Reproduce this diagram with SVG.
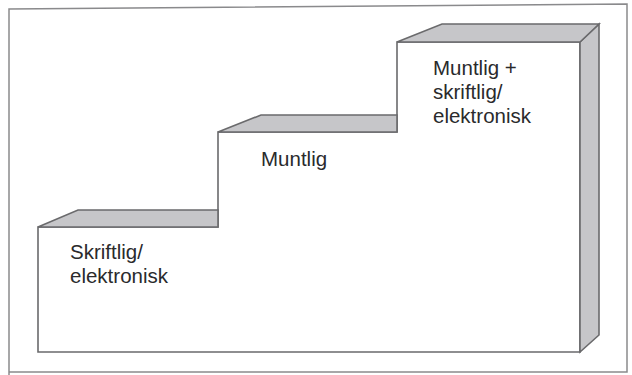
<svg xmlns="http://www.w3.org/2000/svg" width="632" height="375" viewBox="0 0 632 375">
  <style>
    .frame { fill: none; stroke: #8a8a8c; stroke-width: 1.5; }
    .face { fill: #ffffff; stroke: #6a6a6c; stroke-width: 1.6; stroke-linejoin: miter; }
    .top { fill: #c6c6c9; stroke: #6a6a6c; stroke-width: 1.6; stroke-linejoin: miter; }
    .label { font-family: "Liberation Sans", Arial, sans-serif; font-size: 20.5px; fill: #2a2a2c; }
  </style>
  <rect width="632" height="375" fill="#ffffff"/>
  <g id="frame">
    <path class="frame" d="M9,375 L9,9 L627,4 L627,372 L9,372"/>
  </g>
  <g id="stairs">
    <path class="face" d="M38,227 L218,227 L218,132 L397,132 L397,42 L580,42 L580,352 L38,352 Z"/>
    <path class="top" d="M580,42 L599,24 L599,335 L580,352 Z"/>
  </g>
  <g id="step1">
    <path class="top" d="M38,227 L78,210 L218,210 L218,227 Z"/>
    <text class="label" x="70" y="259">Skriftlig/</text>
    <text class="label" x="70" y="283">elektronisk</text>
  </g>
  <g id="step2">
    <path class="top" d="M218,132 L261,115 L397,115 L397,132 Z"/>
    <text class="label" x="261" y="166">Muntlig</text>
  </g>
  <g id="step3">
    <path class="top" d="M397,42 L442,24 L599,24 L580,42 Z"/>
    <text class="label" x="433" y="75">Muntlig +</text>
    <text class="label" x="433" y="99">skriftlig/</text>
    <text class="label" x="433" y="123">elektronisk</text>
  </g>
</svg>
